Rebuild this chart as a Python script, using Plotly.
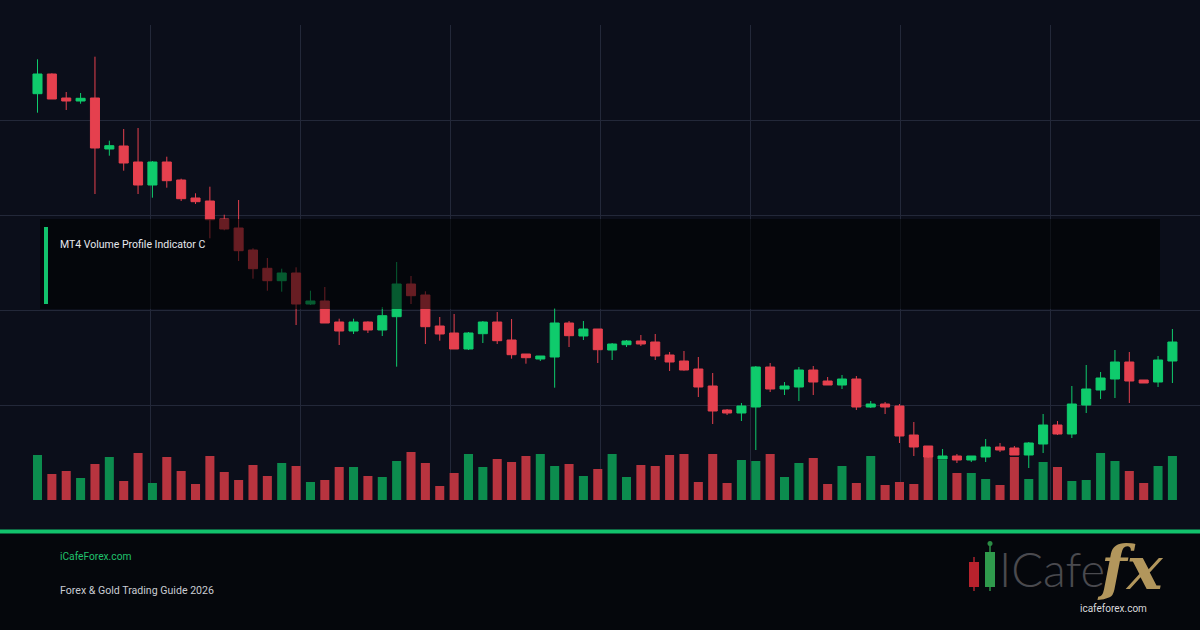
import plotly.graph_objects as go

# ---------------- data ----------------
bars = list(range(80))

opens = [2406.3, 2426, 2402, 2399, 2402, 2351, 2354, 2338, 2315, 2338,
         2320, 2302, 2299, 2281, 2272, 2250, 2231.7, 2219.3, 2227, 2196,
         2199, 2178, 2169, 2178, 2170, 2183.3, 2216, 2205, 2174, 2167,
         2151, 2166.3, 2178, 2160, 2146, 2141, 2143, 2177, 2164, 2171,
         2150, 2155.3, 2159, 2158, 2145, 2139, 2131, 2114, 2090, 2087,
         2093, 2133, 2111, 2113, 2130, 2119, 2115, 2121, 2093, 2096,
         2094, 2065, 2054, 2041, 2044, 2040, 2043, 2053, 2052, 2045,
         2056, 2075, 2066, 2095, 2110, 2121, 2138, 2120, 2118, 2139]
highs = [2440.7, 2426.7, 2408, 2407, 2443.3, 2359.3, 2371, 2372, 2339, 2343.3,
         2321.3, 2306.7, 2313.3, 2285.3, 2300, 2251.7, 2242, 2231.3, 2232.7, 2209.3,
         2213, 2181.3, 2181.3, 2178.7, 2193, 2238, 2224, 2208.7, 2183, 2186,
         2168, 2179, 2188, 2181, 2146, 2144, 2192, 2179, 2179, 2171,
         2157, 2160, 2165, 2166, 2148, 2149, 2143, 2127, 2091, 2097,
         2134, 2137, 2118, 2133, 2134, 2123, 2125, 2124, 2099, 2098,
         2096, 2078, 2054, 2051, 2046, 2044, 2061, 2057, 2054, 2058,
         2086, 2079, 2114, 2135, 2128, 2150, 2148, 2120, 2144, 2171]
lows = [2387.3, 2401, 2390, 2396.3, 2306, 2344.3, 2329.3, 2306, 2302.3, 2312.3,
        2299, 2296, 2261.7, 2269.7, 2239, 2221.3, 2209.3, 2208.3, 2175, 2195,
        2177, 2155, 2166, 2167, 2164, 2133.3, 2196, 2156, 2159.3, 2151,
        2150, 2157, 2156, 2141.3, 2136.3, 2139, 2112.3, 2153, 2160, 2137,
        2140, 2153, 2154, 2140, 2129, 2129.3, 2103, 2076, 2085, 2079,
        2050, 2108, 2105, 2099, 2105, 2115, 2111, 2090, 2092, 2086,
        2057, 2044, 2042, 2041, 2037, 2038, 2038, 2048, 2045, 2032,
        2047, 2065, 2062, 2087, 2101, 2102, 2097, 2117, 2113, 2117]
closes = [2426, 2401, 2399, 2401.7, 2352, 2354.3, 2337, 2315, 2338, 2319.3,
          2301.3, 2298.3, 2280.3, 2271, 2249.3, 2231.3, 2219.3, 2227, 2196, 2199,
          2177, 2169, 2178, 2170, 2184.3, 2216, 2204.3, 2173.3, 2166, 2151,
          2167, 2178, 2159.3, 2145.3, 2142.3, 2144, 2177, 2164.3, 2171, 2150.3,
          2156, 2159, 2156, 2144, 2138, 2130, 2113, 2089, 2087, 2094,
          2133, 2111, 2114, 2130, 2118, 2115, 2121, 2093, 2096, 2093,
          2064, 2053, 2043, 2044, 2040, 2044, 2053, 2050, 2045, 2057,
          2075, 2066, 2096, 2111, 2122, 2138, 2119, 2117, 2140, 2158]
volumes = [4500, 2600, 2900, 2200, 3600, 4300, 1900, 4700, 1700, 4300,
           2900, 1600, 4400, 2800, 2000, 3500, 2400, 3700, 3400, 1800,
           2000, 3300, 3300, 2400, 2300, 3900, 4800, 3700, 1400, 2700,
           4600, 3300, 4100, 3800, 4400, 4600, 3400, 3600, 2400, 3100,
           4600, 2300, 3500, 3400, 4500, 4600, 1800, 4600, 1700, 4000,
           3900, 4600, 2300, 3700, 4200, 1600, 3400, 1700, 4400, 1500,
           1800, 1600, 4400, 4000, 2700, 2700, 2100, 1500, 4300, 2100,
           3800, 3300, 1900, 2000, 4700, 3900, 2900, 1700, 3400, 4400]

title_text = "MT4 Volume Profile Indicator C"
site_text = "iCafeForex.com"
guide_text = "Forex &amp; Gold Trading Guide 2026"
logo_url = "icafeforex.com"

# ---------------- styles ----------------
W, H = 1200, 630
BG = "#0b0e1a"
FOOT_BG = "#05070c"
GRID = "#232839"
UP = "#0fcb6c"
DOWN = "#e5404e"
VOL_UP = "#0c8c4e"
VOL_DOWN = "#b8343f"
ACCENT = "#12c26c"

vol_colors = [VOL_UP if c >= o else VOL_DOWN for o, c in zip(opens, closes)]

def px_y(ypx):
    return (H - ypx) / H

def px_x(xpx):
    return xpx / W

# plot area: y from 25px to 500px
x_range = [-2.61, 80.92]
p_range = [2000, 2475]
v_range = [0, 47500]

fig = go.Figure()
fig.add_trace(go.Bar(
    x=bars, y=volumes, marker=dict(color=vol_colors, line=dict(width=0)),
    yaxis="y", hoverinfo="skip", showlegend=False))
fig.add_trace(go.Candlestick(
    x=bars, open=opens, high=highs, low=lows, close=closes,
    increasing=dict(line=dict(color=UP, width=1), fillcolor=UP),
    decreasing=dict(line=dict(color=DOWN, width=1), fillcolor=DOWN),
    whiskerwidth=0, yaxis="y2", showlegend=False, hoverinfo="skip"))

grid_x = [x_range[0] + k * (x_range[1] - x_range[0]) / 8 for k in range(1, 8)]
grid_y = [p_range[0] + k * (p_range[1] - p_range[0]) / 5 for k in range(0, 6)]

shapes = [
    # footer background
    dict(type="rect", xref="paper", yref="paper", x0=0, x1=1, y0=0, y1=px_y(532),
         fillcolor=FOOT_BG, line=dict(width=0), layer="below"),
    # footer accent line
    dict(type="rect", xref="paper", yref="paper", x0=0, x1=1, y0=px_y(533.5), y1=px_y(529.5),
         fillcolor=ACCENT, line=dict(width=0), layer="above"),
    # title overlay box
    dict(type="rect", xref="paper", yref="paper", x0=px_x(40), x1=px_x(1160),
         y0=px_y(309), y1=px_y(219), fillcolor="rgba(0,0,0,0.55)", line=dict(width=0), layer="above"),
    dict(type="rect", xref="paper", yref="paper", x0=px_x(44), x1=px_x(48),
         y0=px_y(304), y1=px_y(227), fillcolor=ACCENT, line=dict(width=0), layer="above"),
    # logo candles
    dict(type="line", xref="paper", yref="paper", x0=px_x(974), x1=px_x(974),
         y0=px_y(591), y1=px_y(557), line=dict(color="#a8222c", width=1.5)),
    dict(type="rect", xref="paper", yref="paper", x0=px_x(969), x1=px_x(979),
         y0=px_y(587), y1=px_y(562), fillcolor="#b8222d", line=dict(width=0)),
    dict(type="line", xref="paper", yref="paper", x0=px_x(990), x1=px_x(990),
         y0=px_y(591), y1=px_y(543), line=dict(color="#2b8c45", width=1.5)),
    dict(type="rect", xref="paper", yref="paper", x0=px_x(985), x1=px_x(995),
         y0=px_y(587), y1=px_y(552), fillcolor="#2f9a4c", line=dict(width=0)),
    dict(type="circle", xref="paper", yref="paper", x0=px_x(987.5), x1=px_x(992.5),
         y0=px_y(546), y1=px_y(541), fillcolor="#2b8c45", line=dict(width=0)),
]

annotations = [
    dict(text=title_text, xref="paper", yref="paper", x=px_x(58), y=px_y(245),
         xanchor="left", yanchor="middle", showarrow=False,
         font=dict(family="Roboto", size=10.5, color="#e6e8ee")),
    dict(text=site_text, xref="paper", yref="paper", x=px_x(58), y=px_y(556),
         xanchor="left", yanchor="middle", showarrow=False,
         font=dict(family="Roboto", size=10.2, color="#20c26c")),
    dict(text=guide_text, xref="paper", yref="paper", x=px_x(58), y=px_y(590),
         xanchor="left", yanchor="middle", showarrow=False,
         font=dict(family="Roboto", size=10.6, color="#c9ccd3")),
    dict(text="ICafe", xref="paper", yref="paper", x=px_x(997), y=px_y(569),
         xanchor="left", yanchor="middle", showarrow=False,
         font=dict(family="Lato", size=47, color="#4a4a4f", weight=300)),
    dict(text="<i><b>fx</b></i>", xref="paper", yref="paper", x=px_x(1095), y=px_y(568),
         xanchor="left", yanchor="middle", showarrow=False,
         font=dict(family="DejaVu Serif", size=60, color="#b2965c")),
    dict(text=logo_url, xref="paper", yref="paper", x=px_x(1113), y=px_y(608),
         xanchor="center", yanchor="middle", showarrow=False,
         font=dict(family="Roboto", size=10, color="#d8d8dc")),
]

fig.update_layout(
    width=W, height=H, autosize=False,
    margin=dict(l=0, r=0, t=0, b=0, pad=0),
    paper_bgcolor=BG, plot_bgcolor=BG,
    showlegend=False, bargap=0.37, boxgap=0.1,
    xaxis=dict(range=x_range, domain=[0, 1], tickvals=grid_x, showticklabels=False,
               showgrid=True, gridcolor=GRID, gridwidth=1, zeroline=False,
               showline=False, ticks="", rangeslider=dict(visible=False), fixedrange=True),
    yaxis=dict(range=v_range, domain=[px_y(500), px_y(25)], showgrid=False,
               showticklabels=False, zeroline=False, showline=False, ticks="", fixedrange=True),
    yaxis2=dict(range=p_range, overlaying="y", tickvals=grid_y, showgrid=True,
                gridcolor=GRID, gridwidth=1, showticklabels=False, zeroline=False,
                showline=False, ticks="", fixedrange=True),
    shapes=shapes, annotations=annotations,
    hovermode=False,
)

fig.write_html("out.html", config={"displayModeBar": False, "staticPlot": True},
               post_script="document.body.style.margin='0';")
